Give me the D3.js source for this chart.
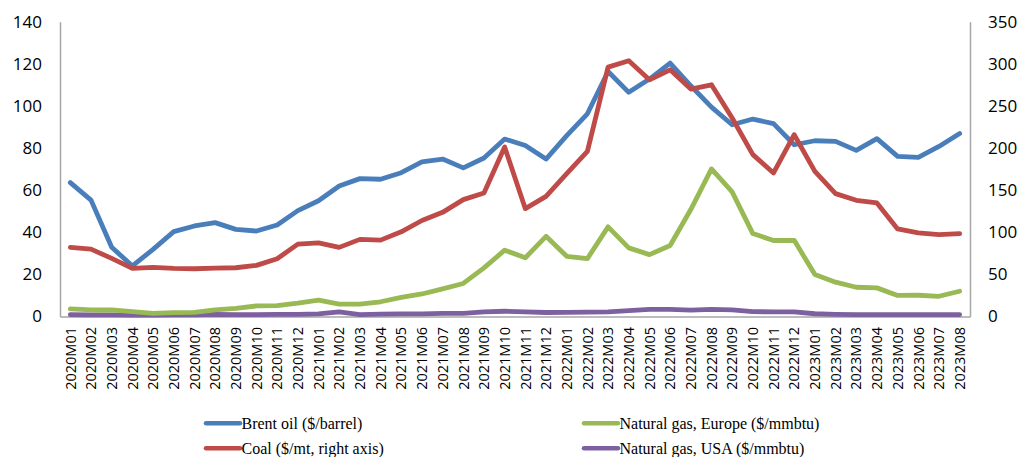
<!DOCTYPE html>
<html><head><meta charset="utf-8">
<script src="https://cdn.jsdelivr.net/npm/d3@7"></script>
<style>body{margin:0;background:#fff}svg{display:block}</style>
</head><body>
<svg id="c" width="1021" height="457"></svg>
<script>
const categories = ["2020M01","2020M02","2020M03","2020M04","2020M05","2020M06","2020M07","2020M08","2020M09","2020M10","2020M11","2020M12",
"2021M01","2021M02","2021M03","2021M04","2021M05","2021M06","2021M07","2021M08","2021M09","2021M10","2021M11","2021M12",
"2022M01","2022M02","2022M03","2022M04","2022M05","2022M06","2022M07","2022M08","2022M09","2022M10","2022M11","2022M12",
"2023M01","2023M02","2023M03","2023M04","2023M05","2023M06","2023M07","2023M08"];
const brent = [63.6,55.3,32.9,24.0,31.9,40.3,43.0,44.6,41.4,40.6,43.5,50.3,55.0,62.0,65.5,65.2,68.3,73.4,74.8,70.6,75.3,84.3,81.2,74.8,85.9,96.3,116.4,106.5,112.8,120.4,109.6,99.5,91.1,93.8,91.6,81.6,83.5,83.2,78.9,84.5,76.1,75.6,80.8,86.9];
const coal = [82.1,80.0,69.0,57.2,58.4,57.2,56.7,57.5,57.9,60.7,68.6,86.0,87.5,82.1,91.6,90.7,100.6,114,123.7,138.8,146.7,201.3,128.1,142.7,169.6,196.1,296.2,303.7,281.1,293,270.1,275.2,235.7,192.2,170.5,215.9,172.4,145.9,138,134.9,104,99.3,97.3,98.5];
const gasEurope = [3.6,3.1,3.1,2.3,1.5,1.8,2.0,3.1,3.9,5.0,5.2,6.3,7.8,5.9,5.9,7.0,9.1,10.7,13.1,15.7,23.1,31.5,27.9,38.1,28.6,27.5,42.6,32.6,29.4,33.7,50.8,70.1,59.2,39.4,36.1,36.2,19.9,16.3,13.9,13.6,10,10.1,9.6,12];
const gasUSA = [0.9,0.8,0.8,0.7,0.7,0.8,0.8,1.0,0.9,0.9,1.0,1.0,1.2,2.2,0.9,1.1,1.2,1.2,1.5,1.5,2.2,2.5,2.2,1.9,2.0,2.1,2.2,2.8,3.4,3.4,3.0,3.4,3.1,2.3,2.2,2.2,1.3,1.0,0.9,0.9,0.9,0.9,0.9,0.9];
const leftTicks = [0,20,40,60,80,100,120,140];
const rightTicks = [0,50,100,150,200,250,300,350];
const seriesNames = ["Brent oil ($/barrel)","Coal ($/mt, right axis)","Natural gas, Europe ($/mmbtu)","Natural gas, USA ($/mmbtu)"];
const colors = ["#4A7EBB","#BE4B48","#98B954","#7D60A0"];

const svg = d3.select("#c");
const L = 60, R = 970, T = 21.8, B = 316.5;
const x = d3.scaleBand().domain(categories).range([L, R]);
const yL = d3.scaleLinear().domain([0,140]).range([B, T]);
const yR = d3.scaleLinear().domain([0,350]).range([B, T]);
const cx = d => x(d) + x.bandwidth()/2;
const axisColor = "#A6A6A6";

const ga = svg.append("g").attr("transform", `translate(${L},0)`)
  .call(d3.axisLeft(yL).tickValues(leftTicks).tickSize(0).tickPadding(18));
ga.select(".domain").attr("stroke", axisColor).attr("stroke-width", 1.5);
ga.selectAll("text").attr("font-family","'Open Sans'").attr("font-size","17px").attr("fill","#000");

const gr = svg.append("g").attr("transform", `translate(${R},0)`)
  .call(d3.axisRight(yR).tickValues(rightTicks).tickSize(0).tickPadding(18));
gr.select(".domain").attr("stroke", axisColor).attr("stroke-width", 1.5);
gr.selectAll("text").attr("font-family","'Open Sans'").attr("font-size","17px").attr("fill","#000");

const gb = svg.append("g").attr("transform", `translate(0,${B})`)
  .call(d3.axisBottom(x).tickSize(0).tickPadding(0));
gb.select(".domain").attr("stroke", axisColor).attr("stroke-width", 1.5);
gb.selectAll("text")
  .attr("font-family","'Open Sans'").attr("font-size","14.5px").attr("fill","#000")
  .attr("text-anchor","end").attr("transform","rotate(-90)")
  .attr("x", -10.5).attr("y", 0).attr("dy","0.36em");

const lineL = d3.line().x((d,i)=>cx(categories[i])).y(d=>yL(d));
const lineR = d3.line().x((d,i)=>cx(categories[i])).y(d=>yR(d));
const order = [
  {v: gasUSA, l: lineL, c: colors[3]},
  {v: gasEurope, l: lineL, c: colors[2]},
  {v: brent, l: lineL, c: colors[0]},
  {v: coal, l: lineR, c: colors[1]},
];
svg.append("g").selectAll("path").data(order).join("path")
  .attr("d", d => d.l(d.v)).attr("fill","none").attr("stroke", d=>d.c)
  .attr("stroke-width", 4.8).attr("stroke-linejoin","round").attr("stroke-linecap","round");

const leg = [
  {n: seriesNames[0], c: colors[0], x: 205, y: 423.3},
  {n: seriesNames[2], c: colors[2], x: 583, y: 423.3},
  {n: seriesNames[1], c: colors[1], x: 205, y: 448.3},
  {n: seriesNames[3], c: colors[3], x: 583, y: 448.3},
];
const lg = svg.append("g").selectAll("g").data(leg).join("g")
  .attr("transform", d=>`translate(${d.x},${d.y})`);
lg.append("line").attr("x1",1).attr("x2",35).attr("y1",0).attr("y2",0)
  .attr("stroke",d=>d.c).attr("stroke-width",4.5).attr("stroke-linecap","round");
lg.append("text").attr("x",36.5).attr("y",0).attr("dy","0.35em")
  .attr("font-family","'Liberation Serif'").attr("font-size","16px").attr("fill","#000")
  .text(d=>d.n);
</script>
</body></html>
